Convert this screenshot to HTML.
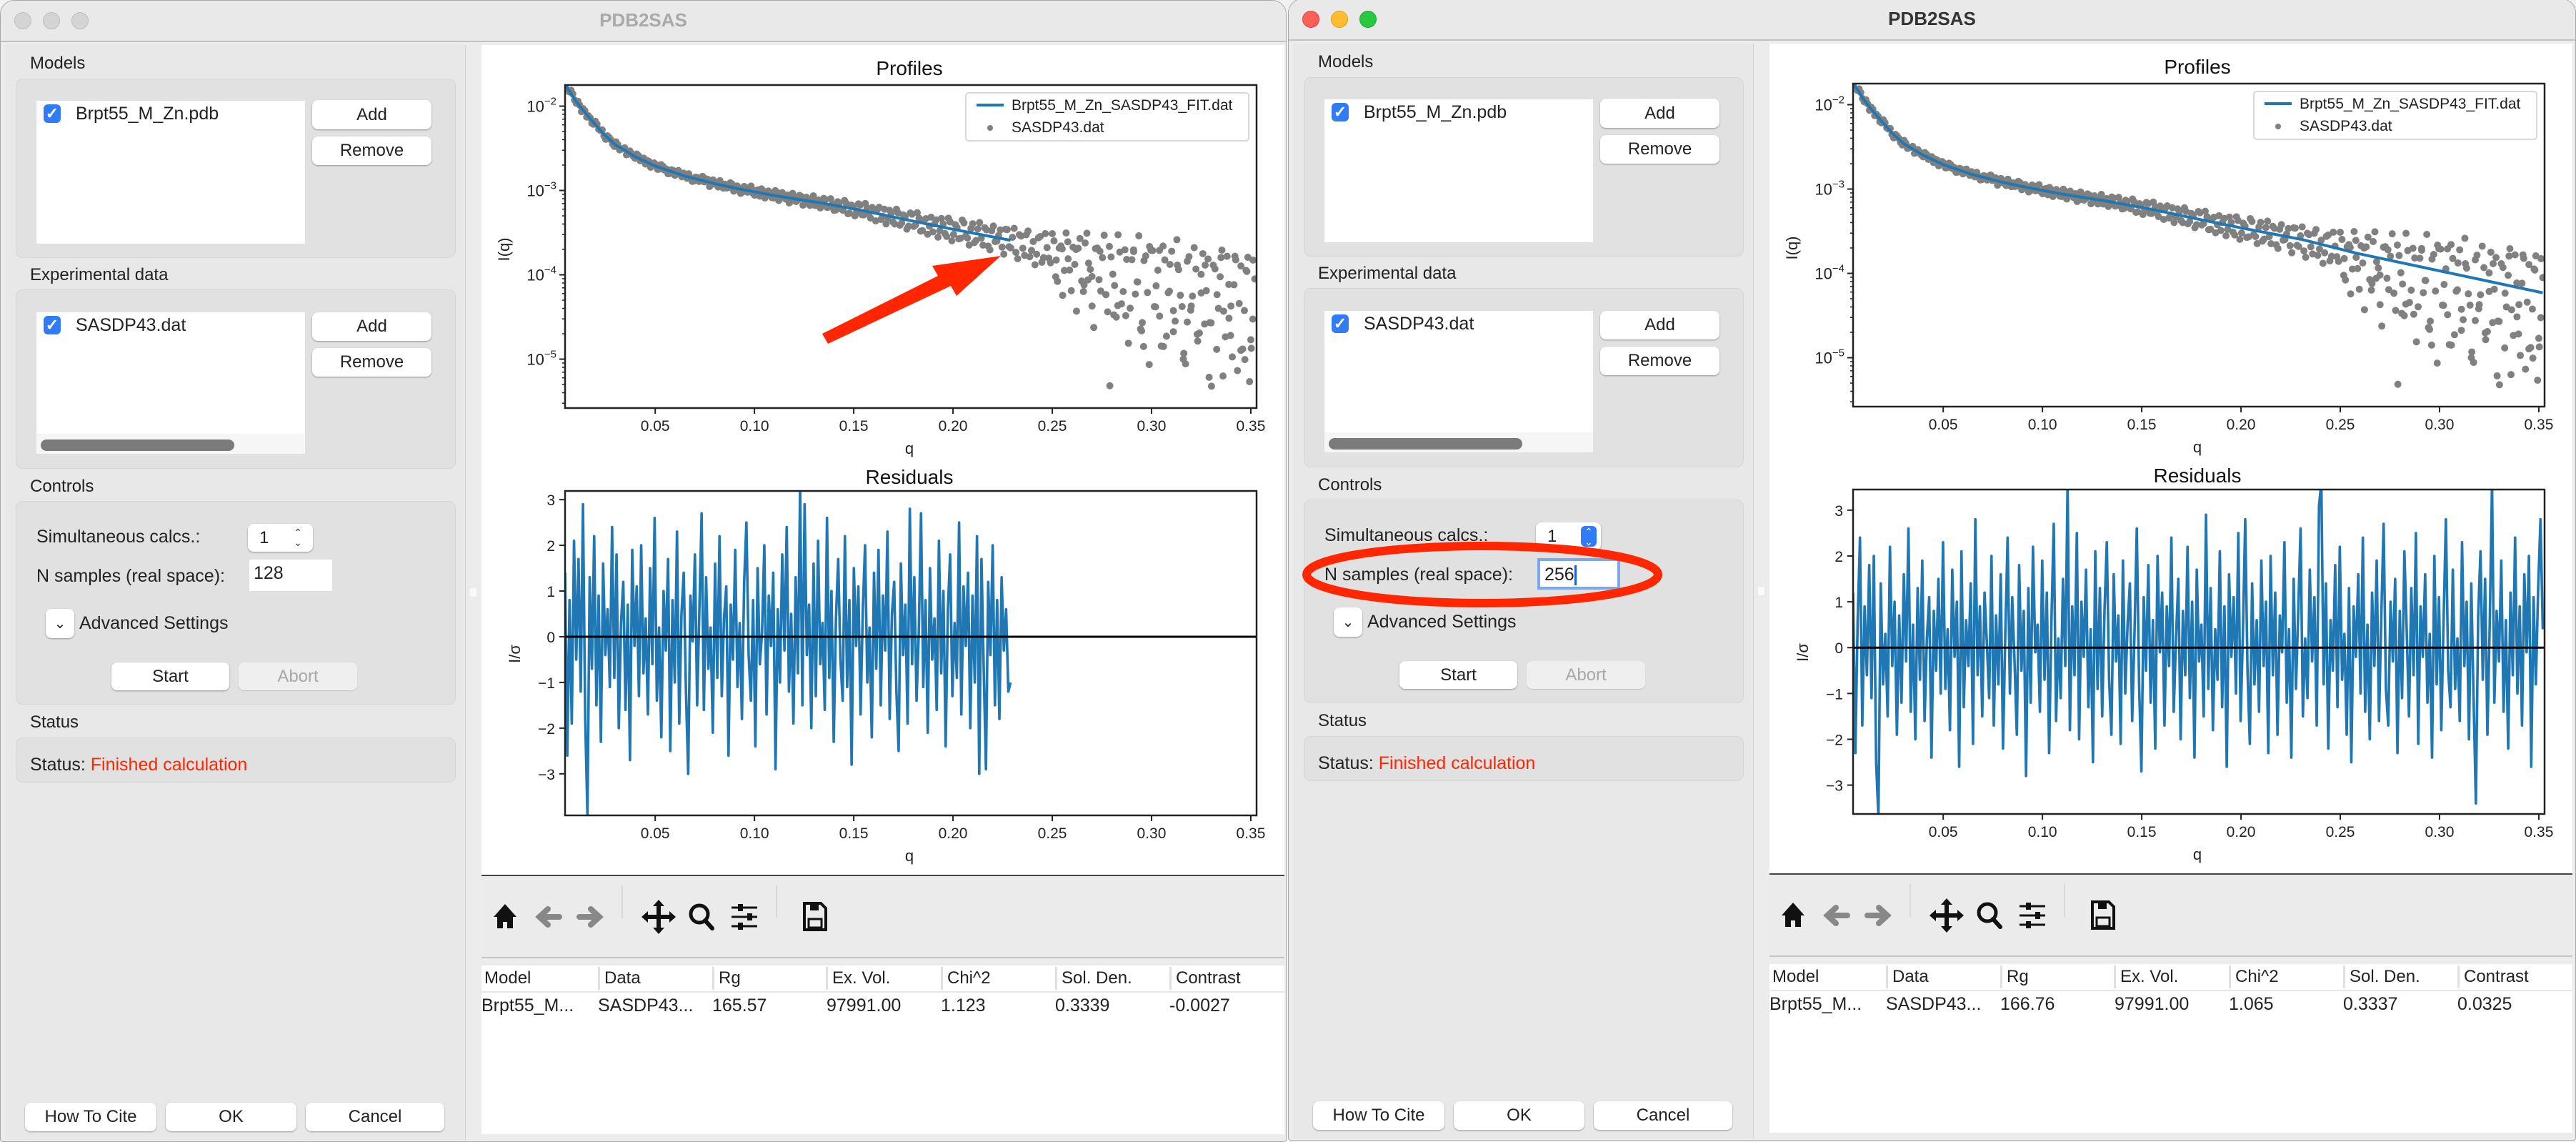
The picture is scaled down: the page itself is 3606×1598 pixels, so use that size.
<!DOCTYPE html>
<html><head><meta charset="utf-8">
<style>
html,body{margin:0;padding:0;}
body{width:3606px;height:1598px;position:relative;overflow:hidden;background:#f2f2f2;font-family:"Liberation Sans",sans-serif;color:#222;}
.a{position:absolute;}
.win{position:absolute;background:#ececec;border:1px solid #a9a9a9;border-radius:20px 20px 4px 4px;overflow:hidden;box-sizing:border-box;}
.tb{position:absolute;left:0;top:0;right:0;height:56px;background:#e9e9e9;border-bottom:2px solid #c2c2c2;}
.light{position:absolute;top:16px;width:22px;height:22px;border-radius:50%;}
.ttl{position:absolute;left:0;right:0;top:10px;text-align:center;font-weight:bold;font-size:26px;line-height:34px;}
.lbl{position:absolute;font-size:24px;line-height:30px;white-space:nowrap;}
.grp{position:absolute;left:21px;width:616px;background:#e1e1e1;border:1px solid #d6d6d6;border-radius:10px;box-sizing:border-box;}
.list{position:absolute;background:#fff;}
.btn{position:absolute;background:#fff;border-radius:8px;box-shadow:0 1px 2px rgba(0,0,0,.35);font-size:24px;display:flex;align-items:center;justify-content:center;box-sizing:border-box;}
.chk{position:absolute;width:24px;height:26px;border-radius:6px;background:#2f7cf6;color:#fff;font-size:22px;line-height:26px;text-align:center;font-weight:bold;}
.th{position:absolute;top:1352px;height:32px;line-height:32px;font-size:24px;border-left:3px solid #e0e0e0;padding-left:6px;white-space:nowrap;}
.td{position:absolute;top:1390px;height:32px;line-height:32px;font-size:25px;white-space:nowrap;}
</style></head>
<body>
<div id="host"></div>
<script>
// ---------- chart data ----------
const fitQ = [0.0046,0.0070,0.0097,0.0130,0.018,0.024,0.030,0.040,0.050,0.065,0.080,0.092,0.110,0.134,0.155,0.175,0.200,0.231,0.258,0.300,0.352];
const fitLogI = [-1.75,-1.83,-1.93,-2.03,-2.17,-2.33,-2.46,-2.60,-2.71,-2.83,-2.92,-2.98,-3.06,-3.15,-3.24,-3.34,-3.46,-3.60,-3.76,-3.97,-4.23];
const scatterRange = [0.005,0.352];
const scatterDev = [0.02,-0.01,0.03,-0.02,0.01,0.02,-0.03,0.01,-0.02,0.03,0.00,-0.02,0.02,0.01,-0.03,0.02,-0.01,0.03,-0.02,0.01,
-0.02,0.03,0.00,-0.03,0.02,-0.01,0.02,-0.02,0.03,0.01,-0.03,0.02,-0.01,0.01,0.03,-0.02,0.00,-0.03,0.02,0.01,
-0.01,0.03,-0.02,0.02,-0.03,0.01,0.02,-0.01,0.04,-0.02,0.01,-0.03,0.03,0.00,-0.02,0.02,-0.04,0.03,-0.01,0.02,
-0.03,0.04,-0.02,0.01,0.03,-0.04,0.02,-0.01,0.04,-0.03,0.01,0.02,-0.04,0.03,-0.02,0.05,-0.03,0.01,-0.05,0.04,
-0.04,0.05,-0.06,0.03,-0.02,0.06,-0.05,0.04,-0.07,0.02,0.05,-0.06,0.07,-0.03,0.04,-0.08,0.06,-0.05,0.03,-0.07,
0.08,-0.04,0.05,-0.09,0.06,-0.02,-0.08,0.07,-0.05,0.04,-0.10,0.08,-0.06,0.03,-0.09,0.10,-0.07,0.05,-0.11,0.06,
-0.04,0.09,-0.12,0.07,-0.05,0.03,-0.10,0.12,-0.08,0.04,-0.13,0.09,-0.06,0.11,-0.14,0.05,-0.09,0.13,-0.11,0.02,
-0.15,0.12,-0.35,0.08,-0.20,0.15,-0.42,-0.10,0.10,-0.28,0.18,-0.05,-0.55,0.14,-0.22,0.05,-0.38,0.20,-0.12,-0.62,
0.16,-0.30,0.09,-0.48,0.22,-0.15,-0.70,0.12,-0.25,0.26,-0.40,0.04,-0.85,0.18,-0.20,0.30,-0.52,0.10,-0.33,-1.00,
0.28,-0.18,0.15,-0.60,0.35,-0.08,-0.45,0.24,-0.75,0.12,-0.28,0.38,-0.55,0.06,-0.95,0.30,-0.22,0.42,-0.65,0.18];
const scatterDev2 = [-0.02,0.04,-0.01,0.03,-0.04,0.02,0.01,-0.03,0.04,-0.01,0.03,-0.04,0.02,-0.02,0.04,-0.03,0.01,-0.04,0.03,-0.01,
0.04,-0.02,0.03,0.02,-0.04,0.03,-0.03,0.04,-0.01,-0.04,0.02,-0.03,0.04,-0.02,0.01,0.04,-0.04,0.02,-0.02,0.05,
0.03,-0.05,0.04,-0.01,0.05,-0.03,-0.02,0.05,-0.04,0.03,-0.05,0.04,-0.02,0.06,-0.04,0.03,0.05,-0.05,0.04,-0.03,
0.06,-0.05,0.05,-0.02,-0.06,0.06,-0.03,0.05,-0.06,0.04,-0.05,0.07,-0.03,-0.06,0.06,-0.04,0.07,-0.06,0.05,-0.03,
0.08,-0.07,0.04,-0.08,0.07,-0.05,0.09,-0.03,0.06,-0.09,0.08,-0.02,-0.10,0.07,-0.06,0.10,-0.08,0.05,-0.11,0.09,
-0.06,0.11,-0.10,0.04,-0.12,0.09,0.02,-0.13,0.10,-0.07,0.12,-0.14,0.06,-0.10,0.13,-0.05,-0.15,0.11,-0.08,0.14,
-0.12,0.07,-0.16,0.13,-0.04,0.10,-0.18,0.12,-0.09,0.15,-0.20,0.08,-0.14,0.16,-0.06,-0.22,0.11,-0.17,0.18,-0.10,
0.20,-0.30,0.05,-0.50,0.25,-0.18,0.10,-0.65,0.22,-0.40,0.30,-0.12,-0.80,0.15,-0.35,0.32,-0.58,0.08,-0.25,0.36,
-0.45,0.20,-0.90,0.10,-0.30,0.40,-0.62,0.18,-1.10,0.26,-0.15,-0.50,0.34,-0.72,0.14,-0.40,0.45,-0.20,-0.88,0.22,
-0.35,0.40,-0.70,0.10,-0.48,0.30,-1.20,0.20,-0.26,0.44,-0.58,0.05,-0.80,0.36,-0.15,-0.68,0.26,-1.05,0.40,-0.30];
const extraQ = [0.252,0.258,0.262,0.266,0.270,0.274,0.279,0.283,0.287,0.291,0.295,0.299,0.302,0.306,0.309,0.313,0.316,0.320,0.323,0.327,0.330,0.333,0.336,0.339,0.342,0.345,0.348,0.350,0.255,0.268,0.281,0.293,0.304,0.318,0.329,0.340,0.347,0.277,0.311,0.335,0.344,0.351,0.296,0.325];
const extraDev = [-0.10,-0.05,0.08,-0.32,-0.20,0.12,-1.45,-0.48,-0.58,0.20,-0.72,0.30,-0.40,-0.85,-0.18,0.15,-0.95,-0.30,-0.62,0.22,-0.45,-0.10,-1.05,-0.35,0.40,-0.70,0.25,-0.55,0.05,-0.25,-0.60,-0.15,0.28,-0.50,-1.10,-0.20,-0.80,-0.38,-0.65,0.35,-1.60,-0.30,-0.90,-0.12];
const residLeftRange = [0.0046,0.229];
const residLeft = [1.4,-2.6,0.8,-1.9,2.1,-0.5,1.7,-1.2,2.9,-1.8,-3.9,1.3,-0.7,2.2,-1.5,0.9,-2.3,1.6,-0.4,0.6,
-1.1,2.4,-0.9,1.8,-2.0,0.3,1.2,-1.6,0.7,-2.7,1.9,-0.2,1.1,-1.3,2.0,-0.8,0.4,-1.7,1.5,-0.6,
2.6,-1.4,0.2,-2.2,1.0,-0.3,1.7,-2.5,0.8,-1.0,2.3,-1.9,0.5,1.4,-1.2,-3.0,0.9,-0.1,1.8,-1.5,
0.6,2.7,-1.6,1.3,-0.7,0.2,-2.1,1.6,-0.9,2.2,-1.3,0.4,1.1,-2.6,0.7,-0.5,1.9,-1.1,0.3,-1.8,
1.2,2.5,-0.4,-1.4,0.8,-2.4,1.5,-0.6,0.1,2.0,-1.7,0.9,-0.2,1.4,-2.9,0.6,-1.0,1.8,-0.3,2.4,
-1.2,0.5,-1.9,1.3,-0.8,3.3,-1.5,2.9,-0.4,0.7,-2.0,1.6,-1.3,2.1,-0.6,0.3,-1.6,2.6,-0.9,1.0,
-2.3,0.4,1.7,-0.5,-1.4,2.2,-1.1,0.8,-2.8,1.5,-0.2,1.1,-1.7,0.6,2.0,-1.0,0.2,-2.2,1.4,-0.7,
1.9,-1.5,0.9,-0.3,2.3,-1.8,0.5,1.2,-1.2,-2.5,1.6,-0.4,0.7,-1.9,2.8,-0.6,1.3,-1.4,0.1,2.7,
-1.1,0.8,-2.1,1.5,-0.5,0.4,-1.6,2.1,-0.8,1.0,-2.4,0.6,1.8,-1.3,0.3,-0.9,2.5,-1.7,1.1,-0.2,
1.4,-2.0,0.9,-1.0,2.2,-3.0,1.7,-0.7,-2.9,1.2,-0.4,2.0,-1.5,0.8,-1.8,1.3,-0.3,0.6,-1.2,-1.0];
const residRightRange = [0.0046,0.352];
const residRight = [1.2,-2.3,0.6,2.4,-1.7,0.9,-0.6,1.8,-1.1,2.0,-2.5,-3.7,1.4,-0.8,0.3,-1.5,2.2,-0.4,1.0,-1.9,
0.7,-1.2,1.6,-0.3,2.6,-1.4,0.5,-2.0,1.3,-0.7,1.9,-1.6,0.2,1.1,-2.4,0.8,-0.5,1.5,-1.0,2.3,
-0.9,0.4,-1.8,1.7,-0.2,1.0,-2.6,2.1,-1.3,0.6,-0.4,1.4,-2.1,2.8,-0.6,0.9,-1.5,1.2,0.1,-1.1,
2.0,-1.7,0.7,-0.8,1.6,-2.2,0.3,2.4,-1.0,1.1,-0.3,-1.9,1.8,-0.5,0.8,-2.8,1.3,-1.2,2.2,-0.1,
0.5,-1.4,1.9,-0.7,1.2,-2.3,0.6,2.7,-1.6,0.2,-1.1,1.5,-0.4,3.6,-1.8,0.9,-0.6,2.5,-2.0,1.0,
-0.2,1.7,-1.3,0.4,-2.5,2.1,-0.9,1.3,-1.5,0.8,2.3,-0.7,-1.9,1.6,-0.3,0.7,-2.1,1.9,-1.0,0.5,
1.4,-1.6,0.3,2.6,-0.8,-2.7,1.1,-0.5,1.8,-1.2,0.6,-2.2,2.0,-0.1,1.2,-1.7,0.9,-0.4,2.4,-1.4,
0.2,1.5,-2.0,0.8,-0.6,2.2,-1.1,1.0,-2.4,1.7,-0.3,0.5,-1.5,2.9,-0.9,1.3,-1.8,0.4,-0.7,2.1,
-1.3,0.9,-2.6,1.6,-0.2,1.1,-1.0,2.5,-1.6,0.3,2.8,-0.5,-2.1,1.4,-0.8,0.6,-1.4,1.9,-0.4,1.0,
-2.3,2.0,-0.6,1.2,-1.9,0.7,-0.1,2.3,-1.2,0.4,-2.4,1.5,-0.9,0.8,2.6,-1.5,0.2,-1.1,1.7,-0.3,
1.1,-1.7,3.1,3.6,-0.8,1.4,-2.2,0.6,-0.5,1.8,-1.3,2.2,-0.7,0.3,-1.9,1.3,-2.5,0.9,-0.2,1.6,
-1.0,2.4,-1.4,0.5,-2.0,1.2,-0.4,1.9,-1.6,0.7,2.7,-0.9,-1.7,1.0,-0.3,1.5,-2.3,0.8,-1.1,2.1,
0.4,-1.5,1.3,-0.6,2.5,-2.1,0.9,-0.2,1.6,-1.2,0.3,-2.4,2.0,-0.8,1.1,-1.8,0.6,2.8,-0.5,-1.3,
1.7,-0.9,0.2,-1.6,2.3,-0.4,1.0,-2.0,1.4,-1.1,-3.4,0.7,2.1,-0.7,1.5,-1.9,0.5,3.6,-1.2,0.8,
-0.3,1.9,-1.4,0.6,-2.2,1.2,-0.6,2.4,-1.0,0.9,-1.7,1.6,-0.1,2.0,-2.6,1.1,-0.8,1.3,2.8,0.4];
const xTicks = [0.05,0.10,0.15,0.20,0.25,0.30,0.35];
const xTickLabels = ["0.05","0.10","0.15","0.20","0.25","0.30","0.35"];
const yDecades = [-2,-3,-4,-5];
const residTicks = [3,2,1,0,-1,-2,-3];
const residLimLeft = [-3.91,3.19];
const residLimRight = [-3.63,3.45];
const profLim = [-5.58,-1.75];
const qLim = [0.0046,0.3529];
const tableLeft = ["Brpt55_M...","SASDP43...","165.57","97991.00","1.123","0.3339","-0.0027"];
const tableRight = ["Brpt55_M...","SASDP43...","166.76","97991.00","1.065","0.3337","0.0325"];

function winHTML(o){
  const act=o.active;
  return `
<div class="tb">
 <div class="light" style="left:19px;background:${act?'#fe5f57':'#d4d4d4'};border:1px solid ${act?'#e0443e':'#bdbdbd'}"></div>
 <div class="light" style="left:59px;background:${act?'#febc2e':'#d4d4d4'};border:1px solid ${act?'#dea123':'#bdbdbd'}"></div>
 <div class="light" style="left:99px;background:${act?'#28c840':'#d4d4d4'};border:1px solid ${act?'#1aab29':'#bdbdbd'}"></div>
 <div class="ttl" style="color:${act?'#333':'#a9a9a9'}">PDB2SAS</div>
</div>
<div class="a" style="left:6px;top:62px;width:644px;height:1532px;background:#e8e8e8;border-right:1px solid #d2d2d2"></div>
<div class="lbl" style="left:41px;top:73px">Models</div>
<div class="grp" style="top:109px;height:251px"></div>
<div class="list" style="left:50px;top:140px;width:376px;height:200px"></div>
<div class="chk" style="left:60px;top:145px">✓</div>
<div class="lbl" style="left:105px;top:143px;font-size:25px">Brpt55_M_Zn.pdb</div>
<div class="btn" style="left:436px;top:139px;width:167px;height:41px">Add</div>
<div class="btn" style="left:436px;top:190px;width:167px;height:40px">Remove</div>
<div class="lbl" style="left:41px;top:369px">Experimental data</div>
<div class="grp" style="top:404px;height:251px"></div>
<div class="list" style="left:50px;top:436px;width:376px;height:198px"></div>
<div class="a" style="left:50px;top:606px;width:376px;height:28px;background:#f6f6f6"></div>
<div class="a" style="left:56px;top:614px;width:271px;height:16px;background:#7b7b7b;border-radius:8px"></div>
<div class="chk" style="left:60px;top:441px">✓</div>
<div class="lbl" style="left:105px;top:439px;font-size:25px">SASDP43.dat</div>
<div class="btn" style="left:436px;top:436px;width:167px;height:40px">Add</div>
<div class="btn" style="left:436px;top:486px;width:167px;height:40px">Remove</div>
<div class="lbl" style="left:41px;top:665px">Controls</div>
<div class="grp" style="top:700px;height:285px"></div>
<div class="lbl" style="left:50px;top:735px;font-size:25px">Simultaneous calcs.:</div>
<div class="btn" style="left:346px;top:732px;width:91px;height:39px;justify-content:flex-start;padding-left:16px">1<span style="position:absolute;right:${act?6:12}px;top:${act?5:4}px;width:${act?22:18}px;height:${act?29:30}px;border-radius:6px;background:${act?'#2f7cf6':'transparent'};color:${act?'#fff':'#333'};font-size:14px;line-height:14px;text-align:center;padding-top:1px;box-sizing:border-box">⌃<br>⌄</span></div>
<div class="lbl" style="left:50px;top:790px;font-size:25px">N samples (real space):</div>
<div class="a" style="left:348px;top:782px;width:116px;height:44px;background:#fff;box-sizing:border-box;${act?'border:4px solid #7aa7ee;':''}font-size:25px;line-height:38px;padding-left:6px">${o.nsamples}${act?'<span style="display:inline-block;width:3px;height:28px;background:#1a5fe0;vertical-align:middle"></span>':''}</div>
<div class="btn" style="left:63px;top:851px;width:40px;height:41px;font-size:20px">⌄</div>
<div class="lbl" style="left:110px;top:856px;font-size:25px">Advanced Settings</div>
<div class="btn" style="left:155px;top:926px;width:165px;height:39px">Start</div>
<div class="btn" style="left:333px;top:926px;width:166px;height:39px;background:#efefef;color:#a8a8a8;box-shadow:0 1px 1px rgba(0,0,0,.15)">Abort</div>
<div class="lbl" style="left:41px;top:995px">Status</div>
<div class="grp" style="top:1031px;height:63px"></div>
<div class="lbl" style="left:41px;top:1054px;font-size:25px">Status: <span style="color:#ff2600">Finished calculation</span></div>
<div class="btn" style="left:34px;top:1542px;width:184px;height:40px">How To Cite</div>
<div class="btn" style="left:231px;top:1542px;width:183px;height:40px">OK</div>
<div class="btn" style="left:427px;top:1542px;width:194px;height:40px">Cancel</div>
<div class="a" style="left:657px;top:822px;width:9px;height:12px;background:#fafafa;border-radius:3px"></div>
<div class="a" style="left:673px;top:62px;width:1124px;height:1161px;background:#fff;border-bottom:2px solid #444"></div>
<div class="a" style="left:673px;top:1225px;width:1124px;height:113px;background:#ebebeb;border-bottom:2px solid #c4c4c4"></div>
<div class="a" style="left:869px;top:1238px;width:2px;height:46px;background:#d8d8d8"></div>
<div class="a" style="left:1085px;top:1238px;width:2px;height:46px;background:#d8d8d8"></div>
<div class="a" style="left:673px;top:1350px;width:1124px;height:236px;background:#fff"></div>
<div class="a" style="left:673px;top:1386px;width:1124px;height:2px;background:#e6e6e6"></div>
${['Model','Data','Rg','Ex. Vol.','Chi^2','Sol. Den.','Contrast'].map((h,i)=>`<div class="th" style="left:${[673,836,996,1155,1316,1476,1636][i]}px;${i==0?'border-left:none;padding-left:4px':''}">${h}</div>`).join('')}
${o.row.map((v,i)=>`<div class="td" style="left:${[673,836,996,1156,1316,1476,1636][i]}px">${v}</div>`).join('')}
`;}

function mk(svg,tag,attrs){const e=document.createElementNS('http://www.w3.org/2000/svg',tag);for(const k in attrs)e.setAttribute(k,attrs[k]);svg.appendChild(e);return e;}

function interpFit(q){
  for(let i=0;i<fitQ.length-1;i++){ if(q<=fitQ[i+1]){const t=(q-fitQ[i])/(fitQ[i+1]-fitQ[i]);return fitLogI[i]+t*(fitLogI[i+1]-fitLogI[i]);} }
  return fitLogI[fitLogI.length-1];
}

function drawCharts(svg,cfg){
  const X0=790,X1=1758,PT=118,PB=570,RT=686,RB=1140;
  const xq=q=>X0+(q-qLim[0])/(qLim[1]-qLim[0])*(X1-X0);
  const yI=l=>PT+(profLim[1]-l)/(profLim[1]-profLim[0])*(PB-PT);
  const yR=r=>RT+(cfg.rlim[1]-r)/(cfg.rlim[1]-cfg.rlim[0])*(RB-RT);
  const defs=mk(svg,'defs',{});
  const cp1=mk(defs,'clipPath',{id:cfg.id+'c1'});mk(cp1,'rect',{x:X0,y:PT,width:X1-X0,height:PB-PT});
  const cp2=mk(defs,'clipPath',{id:cfg.id+'c2'});mk(cp2,'rect',{x:X0,y:RT,width:X1-X0,height:RB-RT});
  let t;
  t=mk(svg,'text',{x:1272,y:104,'text-anchor':'middle','font-size':28,fill:'#111'});t.textContent='Profiles';
  
  
  t=mk(svg,'text',{x:1272,y:676,'text-anchor':'middle','font-size':28,fill:'#111'});t.textContent='Residuals';
  
  
  // scatter
  const g1=mk(svg,'g',{'clip-path':`url(#${cfg.id}c1)`});
  
  
  for(const [devs,off] of [[scatterDev,0],[scatterDev2,0.5]]){
    const n=devs.length;
    for(let i=0;i<n;i++){
      const q=scatterRange[0]+(i+off)*(scatterRange[1]-scatterRange[0])/(n-1);
      if(q>scatterRange[1]) continue;
      const c=mk(g1,'circle',{cx:xq(q),cy:yI(interpFit(q)+devs[i]),r:5,fill:'#808080'});
      
      
    }
  }
  for(let i=0;i<Math.min(extraQ.length,extraDev.length);i++){
    const c=mk(g1,'circle',{cx:xq(extraQ[i]),cy:yI(interpFit(extraQ[i])+extraDev[i]),r:5,fill:'#808080'});
    
    
  }
  // fit
  let pts=[];
  for(let i=0;i<fitQ.length;i++){ if(fitQ[i]<=cfg.fitMax) pts.push(xq(fitQ[i])+','+yI(fitLogI[i])); }
  if(cfg.fitMax<fitQ[fitQ.length-1]) pts.push(xq(cfg.fitMax)+','+yI(interpFit(cfg.fitMax)));
  const fl=mk(g1,'polyline',{points:pts.join(' '),fill:'none',stroke:'#1f77b4','stroke-width':4});
  
  
  // profile axes
  const ax=mk(svg,'rect',{x:X0,y:PT,width:X1-X0,height:PB-PT,fill:'none',stroke:'#222','stroke-width':2.5});
  
  
  for(const d of yDecades){
    const y=yI(d);
    mk(svg,'line',{x1:X0-8,x2:X0,y1:y,y2:y,stroke:'#222','stroke-width':2});
    const tx=mk(svg,'text',{x:X0-12,y:y+8,'text-anchor':'end','font-size':22,fill:'#222'});
    
    
    tx.innerHTML=`10<tspan dy="-10" font-size="15">−${-d}</tspan>`;
    for(let m=2;m<10;m++){const lm=d-1+Math.log10(m);if(lm>profLim[0]&&lm<profLim[1]){const ym=yI(lm);mk(svg,'line',{x1:X0-4,x2:X0,y1:ym,y2:ym,stroke:'#222','stroke-width':1.5});}}
  }
  for(let m=2;m<10;m++){const lm=-2+Math.log10(m);if(lm<profLim[1]){const ym=yI(lm);mk(svg,'line',{x1:X0-4,x2:X0,y1:ym,y2:ym,stroke:'#222','stroke-width':1.5});}}
  for(const [bot,ly] of [[PB,602],[RB,1172]]){
    xTicks.forEach((q,i)=>{const x=xq(q);mk(svg,'line',{x1:x,x2:x,y1:bot,y2:bot+8,stroke:'#222','stroke-width':2});
      const tx=mk(svg,'text',{x:x,y:ly,'text-anchor':'middle','font-size':21,fill:'#222'});tx.textContent=xTickLabels[i];
      
      });
  }
  t=mk(svg,'text',{x:1272,y:634,'text-anchor':'middle','font-size':22,fill:'#222'});t.textContent='q';
  
  
  t=mk(svg,'text',{x:1272,y:1204,'text-anchor':'middle','font-size':22,fill:'#222'});t.textContent='q';
  
  
  t=mk(svg,'text',{x:0,y:0,'text-anchor':'middle','font-size':22,fill:'#222',transform:'translate(712,348) rotate(-90)'});t.textContent='I(q)';
  
  
  t=mk(svg,'text',{x:0,y:0,'text-anchor':'middle','font-size':22,fill:'#222',transform:'translate(727,914) rotate(-90)'});t.textContent='I/σ';
  
  
  const lg=mk(svg,'rect',{x:1351,y:129,width:396,height:67,rx:4,fill:'#fff','fill-opacity':0.85,stroke:'#d8d8d8','stroke-width':2});
  
  
  mk(svg,'line',{x1:1366,x2:1404,y1:146,y2:146,stroke:'#1f77b4','stroke-width':4});
  t=mk(svg,'text',{x:1415,y:153,'font-size':21,fill:'#222'});t.textContent='Brpt55_M_Zn_SASDP43_FIT.dat';
  
  
  mk(svg,'circle',{cx:1385,cy:178,r:4,fill:'#808080'});
  t=mk(svg,'text',{x:1415,y:184,'font-size':21,fill:'#222'});t.textContent='SASDP43.dat';
  
  
  // residuals
  const g2=mk(svg,'g',{'clip-path':`url(#${cfg.id}c2)`});
  const rp=[];const rn=cfg.resid.length;
  for(let i=0;i<rn;i++){const q=cfg.rrange[0]+i*(cfg.rrange[1]-cfg.rrange[0])/(rn-1);rp.push(xq(q)+','+yR(cfg.resid[i]));}
  const rl=mk(g2,'polyline',{points:rp.join(' '),fill:'none',stroke:'#1f77b4','stroke-width':3.6,'stroke-linejoin':'round'});
  
  
  const zl=mk(g2,'line',{x1:X0,x2:X1,y1:yR(0),y2:yR(0),stroke:'#000','stroke-width':3});
  
  
  const ax2=mk(svg,'rect',{x:X0,y:RT,width:X1-X0,height:RB-RT,fill:'none',stroke:'#222','stroke-width':2.5});
  
  
  for(const r of residTicks){const y=yR(r);mk(svg,'line',{x1:X0-8,x2:X0,y1:y,y2:y,stroke:'#222','stroke-width':2});
    const tx=mk(svg,'text',{x:X0-14,y:y+8,'text-anchor':'end','font-size':21,fill:'#222'});tx.textContent=r<0?'−'+(-r):String(r);
    
    }
  const ic=mk(svg,'g',{});
  
  
  mk(ic,'polygon',{points:'706,1264 690,1282 695,1282 695,1298 703,1298 703,1289 709,1289 709,1298 717,1298 717,1282 722,1282',fill:'#111'});
  mk(ic,'path',{d:'M782,1282 H756 M766,1271 L754,1282 L766,1293',stroke:'#888','stroke-width':8,fill:'none','stroke-linecap':'round'});
  mk(ic,'path',{d:'M810,1282 H836 M826,1271 L838,1282 L826,1293',stroke:'#888','stroke-width':8,fill:'none','stroke-linecap':'round'});
  mk(ic,'path',{d:'M921,1262 V1302 M901,1282 H941',stroke:'#111','stroke-width':6,fill:'none'});
  mk(ic,'path',{d:'M921,1258 l-8,9 h16z M921,1306 l-8,-9 h16z M897,1282 l9,-8 v16z M945,1282 l-9,-8 v16z',fill:'#111'});
  mk(ic,'circle',{cx:978,cy:1278,r:12,fill:'none',stroke:'#111','stroke-width':5});
  mk(ic,'line',{x1:986,y1:1287,x2:996,y2:1298,stroke:'#111','stroke-width':6,'stroke-linecap':'round'});
  mk(ic,'path',{d:'M1023,1269 H1059 M1023,1282 H1059 M1023,1295 H1059',stroke:'#111','stroke-width':3});
  mk(ic,'rect',{x:1032,y:1264,width:7,height:10,fill:'#111'});
  mk(ic,'rect',{x:1045,y:1277,width:7,height:10,fill:'#111'});
  mk(ic,'rect',{x:1032,y:1290,width:7,height:10,fill:'#111'});
  mk(ic,'path',{d:'M1125,1263 H1148 L1155,1270 V1300 H1125 Z',fill:'none',stroke:'#111','stroke-width':4});
  mk(ic,'rect',{x:1133,y:1263,width:12,height:10,fill:'#111'});
  mk(ic,'rect',{x:1131,y:1285,width:18,height:12,fill:'none',stroke:'#111','stroke-width':3});
}

const host=document.getElementById('host');
const cfgs=[
 {id:'L',left:0,top:0,w:1801,active:false,nsamples:'128',row:tableLeft,resid:residLeft,rrange:residLeftRange,rlim:residLimLeft,fitMax:0.229},
 {id:'R',left:1803,top:-2,w:1803,active:true,nsamples:'256',row:tableRight,resid:residRight,rrange:residRightRange,rlim:residLimRight,fitMax:0.352}
];
for(const c of cfgs){
  const w=document.createElement('div');
  w.className='win';
  w.style.cssText=`left:${c.left}px;top:${c.top}px;width:${c.w}px;height:1598px;`;
  
  
  w.innerHTML=winHTML(c);
  const svg=document.createElementNS('http://www.w3.org/2000/svg','svg');
  svg.setAttribute('width',c.w);svg.setAttribute('height',1598);
  svg.setAttribute('style','position:absolute;left:0;top:0;font-family:"Liberation Sans",sans-serif');
  
  
  w.appendChild(svg);
  drawCharts(svg,c);
  if(c.active){
    const e=document.createElementNS('http://www.w3.org/2000/svg','ellipse');
    e.setAttribute('cx',271);e.setAttribute('cy',805);e.setAttribute('rx',246);e.setAttribute('ry',40);
    e.setAttribute('fill','none');e.setAttribute('stroke','#ff2600');e.setAttribute('stroke-width',12);
    
    
    svg.appendChild(e);
  } else {
    const a=document.createElementNS('http://www.w3.org/2000/svg','polygon');
    a.setAttribute('points','1150,466 1312,385 1304,371 1400,357 1338,413 1330,399 1158,480');
    a.setAttribute('fill','#ff2600');
    
    
    svg.appendChild(a);
  }
  host.appendChild(w);
}
</script>
</body></html>
